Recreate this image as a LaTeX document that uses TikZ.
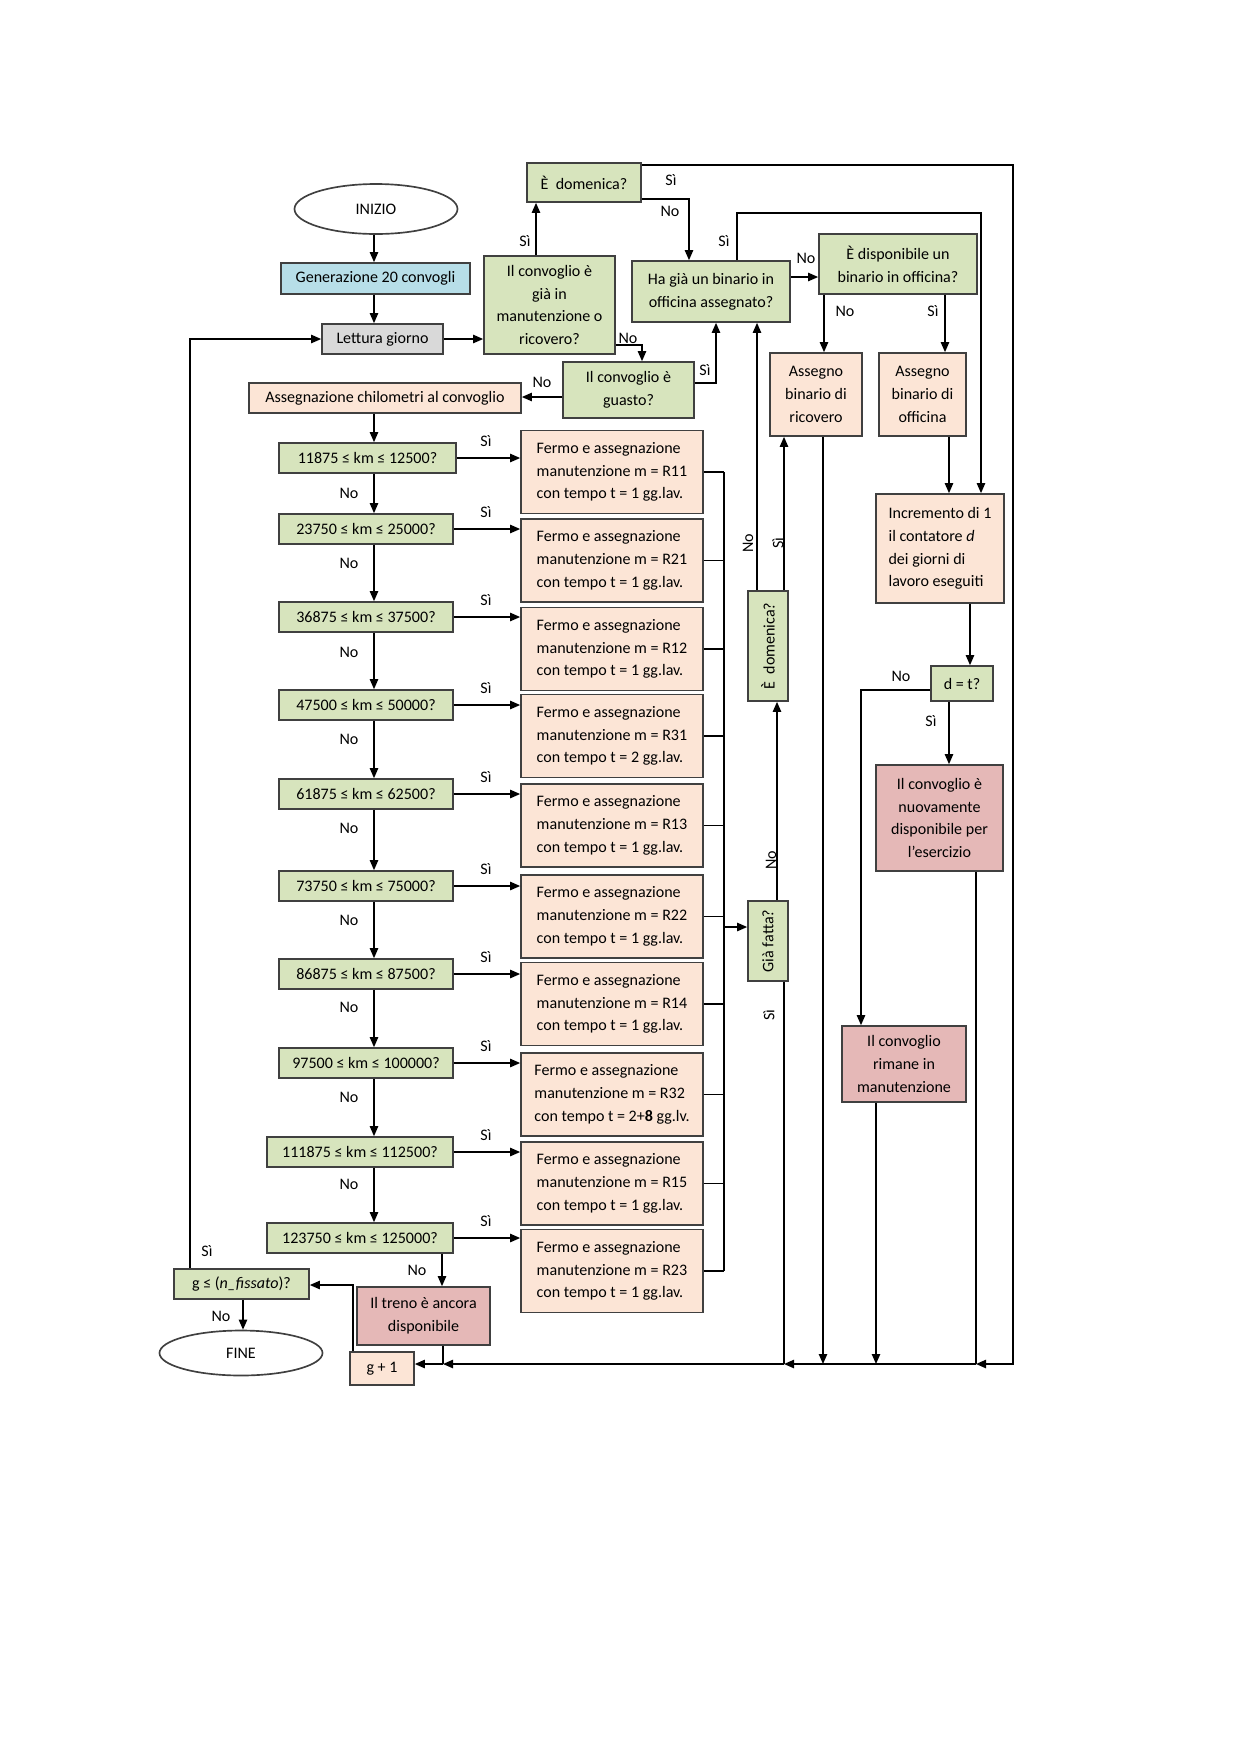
\documentclass[tikz,border=0pt]{standalone}
\usepackage{fontspec}
\setmainfont{Carlito}
\usepackage{graphicx}
\usepackage{xcolor}
\usepackage{tikz}
\usetikzlibrary{shapes,arrows,positioning,calc,arrows.meta}

\definecolor{verde}{RGB}{215,228,189}
\definecolor{pesca}{RGB}{252,229,214}
\definecolor{rosa}{RGB}{229,184,183}
\definecolor{azzurro}{RGB}{183,222,232}
\definecolor{grigio}{RGB}{217,217,217}
\definecolor{bordo}{RGB}{64,64,64}

\begin{document}
\begin{tikzpicture}[x=0.48pt, y=-0.48pt,
    wh/.style 2 args={minimum width=(#1)*0.48pt, minimum height=(#2)*0.48pt},
    box/.style={draw=bordo, line width=0.8pt, inner sep=0pt, align=center,
        font=\fontsize{7.7}{10.9}\selectfont},
    termine/.style={box, ellipse, fill=white},
    verdebox/.style={box, fill=verde},
    pescabox/.style={box, fill=pesca},
    rosabox/.style={box, fill=rosa},
    etich/.style={inner sep=0pt, font=\fontsize{7.7}{10.9}\selectfont},
    linea/.style={draw=black, line width=0.7pt},
    freccia/.style={linea, -{Triangle[length=4.8pt,width=4pt]}}]
    \useasboundingbox (0,0) rectangle (1240,1754);

    % blocchi in alto
    \node[termine, wh={163}{50}] (inizio) at (376,209) {INIZIO};
    \node[box, fill=azzurro, wh={189}{31}] (gen) at (375.5,278.5) {Generazione 20 convogli};
    \node[box, fill=grigio, wh={121}{30}] (lett) at (382.5,339) {Lettura giorno};
    \node[verdebox, wh={131}{98}] (giaman) at (549.5,305) {Il convoglio è\\già in\\manutenzione o\\ricovero?};
    \node[verdebox, wh={114}{39}] (dom1) at (584,182.5) {È\ \ domenica?};
    \node[verdebox, wh={131}{56}] (guasto) at (628.5,390) {Il convoglio è\\guasto?};
    \node[pescabox, wh={272}{30}] (asskm) at (385,398) {Assegnazione chilometri al convoglio};
    \node[verdebox, wh={158}{61}] (hagia) at (711,291.5) {Ha già un binario in\\officina assegnato?};
    \node[verdebox, wh={158}{60}] (disp) at (898,264) {È disponibile un\\binario in officina?};
    \node[pescabox, wh={92}{83}] (ricov) at (816,394.5) {Assegno\\binario di\\ricovero};
    \node[pescabox, wh={87}{83}] (offic) at (922.5,394.5) {Assegno\\binario di\\officina};
    \node[pescabox, wh={128}{109}, align=left] (incr) at (940,548.5) {Incremento di 1\\il contatore \textit{d}\\dei giorni di\\lavoro eseguiti};
    \node[verdebox, wh={62}{35}] (dt) at (962,683.5) {d = t?};
    \node[verdebox, wh={40}{110}] (dom2) at (768,646) {\rotatebox{90}{È\ \ domenica?}};
    \node[verdebox, wh={40}{80}] (giafatta) at (768,941) {\rotatebox{90}{Già fatta?}};
    \node[rosabox, wh={127}{106}] (nuov) at (939.5,818) {Il convoglio è\\nuovamente\\disponibile per\\l’esercizio};
    \node[rosabox, wh={124}{76}] (rimane) at (904,1064) {Il convoglio\\rimane in\\manutenzione};

    % blocchi in basso
    \node[rosabox, wh={133}{58}] (treno) at (423.5,1316) {Il treno è ancora\\disponibile};
    \node[pescabox, wh={64}{33}] (gpiu) at (382,1368.5) {g + 1};
    \node[verdebox, wh={135}{30}] (gcheck) at (241.5,1284) {g ≤ (\textit{n\_fissato})?};
    \node[termine, wh={163}{45}] (fine) at (241,1353) {FINE};

    % punti sulla linea di ritorno
    \coordinate (jDx) at (1013,1364);
    \coordinate (jNuov) at (976,1364);
    \coordinate (jRim) at (876,1364);
    \coordinate (jRic) at (823,1364);
    \coordinate (jGia) at (784,1364);
    \coordinate (jTreno) at (443,1364);

    % controlli sui chilometri
    \foreach \n/\xl/\xr/\yk/\yf/\kmlo/\kmhi/\rcod/\ggl in {
        1/279/456/458/472/11875/12500/R11/{1 gg.lav.},
        2/279/453/529/560.5/23750/25000/R21/{1 gg.lav.},
        3/279/453/617/649/36875/37500/R12/{1 gg.lav.},
        4/279/453/705/736/47500/50000/R31/{2 gg.lav.},
        5/279/453/794/825.5/61875/62500/R13/{1 gg.lav.},
        6/279/453/886/916.5/73750/75000/R22/{1 gg.lav.},
        7/279/453/974/1004/86875/87500/R14/{1 gg.lav.},
        8/279/453/1063/1094.5/97500/100000/R32/{2+\textbf{8} gg.lv.},
        9/267/453/1152/1183.5/111875/112500/R15/{1 gg.lav.},
        10/267/453/1238/1271/123750/125000/R23/{1 gg.lav.}}
    {
        \node[verdebox, wh={\xr-\xl}{30}] (km\n) at ({(\xl+\xr)/2},\yk) {\kmlo{} ≤ km ≤ \kmhi?};
        \node[pescabox, wh={182}{83}, align=left] (fermo\n) at (612,\yf) {Fermo e assegnazione\\manutenzione m = \rcod\\con tempo t = \ggl};
        \draw[freccia] (km\n.east) -- (km\n.east -| fermo\n.west);
        \node[etich] at (486,\yk-17) {Sì};
        \draw[linea] (fermo\n.east) -- (fermo\n.east -| 724,0);
    }
    \draw[freccia] (asskm.south -| 374,0) -- (km1.north -| 374,0);
    \foreach \a/\b/\yl in {1/2/493, 2/3/563, 3/4/652, 4/5/739, 5/6/828, 6/7/920, 7/8/1007, 8/9/1097, 9/10/1184}
    {
        \draw[freccia] (km\a.south -| 374,0) -- (km\b.north -| 374,0);
        \node[etich] at (349,\yl) {No};
    }
    \draw[linea] (fermo1.east -| 724,0) -- (fermo10.east -| 724,0);
    \draw[freccia] (724,927) -- (giafatta.west |- 0,927);

    % collegamenti
    \draw[freccia] (inizio.south -| 374,0) -- (gen.north -| 374,0);
    \draw[freccia] (gen.south -| 374,0) -- (lett.north -| 374,0);
    \draw[freccia] (lett.east) -- (giaman.west |- lett.east);
    \draw[freccia] (giaman.north -| 536,0) -- (dom1.south -| 536,0);
    \draw[freccia] (giaman.east |- 0,345) -- (642,345) -- (guasto.north -| 642,0);
    \draw[freccia] (dom1.east |- 0,165) -- (1013,165) -- (jDx) -- (jNuov);
    \draw[freccia] (dom1.east |- 0,199) -- (689,199) -- (hagia.north -| 689,0);
    \draw[freccia] (guasto.east |- 0,383) -- (716,383) -- (hagia.south -| 716,0);
    \draw[freccia] (guasto.west |- 0,397) -- (asskm.east |- 0,397);
    \draw[freccia] (hagia.east |- 0,277) -- (disp.west |- 0,277);
    \draw[freccia] (hagia.north -| 737,0) -- (737,213) -- (981,213) -- (incr.north -| 981,0);
    \draw[freccia] (disp.south -| 824,0) -- (ricov.north -| 824,0);
    \draw[freccia] (disp.south -| 945,0) -- (offic.north -| 945,0);
    \draw[freccia] (offic.south -| 949,0) -- (incr.north -| 949,0);
    \draw[freccia] (incr.south -| 970,0) -- (dt.north -| 970,0);
    \draw[freccia] (dt.west |- 0,690) -- (861,690) -- (rimane.north -| 861,0);
    \draw[freccia] (dt.south -| 949,0) -- (nuov.north -| 949,0);
    \draw[freccia] (dom2.north -| 757,0) -- (hagia.south -| 757,0);
    \draw[freccia] (dom2.north -| 784,0) -- (ricov.south -| 784,0);
    \draw[freccia] (giafatta.north -| 777,0) -- (dom2.south -| 777,0);

    % ritorno al giorno successivo
    \draw[linea] (nuov.south -| jNuov) -- (jNuov);
    \draw[freccia] (jNuov) -- (jGia);
    \draw[freccia] (ricov.south -| jRic) -- (jRic);
    \draw[freccia] (rimane.south -| jRim) -- (jRim);
    \draw[linea] (giafatta.south -| jGia) -- (jGia);
    \draw[freccia] (jGia) -- (jTreno);
    \draw[freccia] (km10.south -| 442,0) -- (treno.north -| 442,0);
    \draw[linea] (treno.south -| jTreno) -- (jTreno);
    \draw[freccia] (jTreno) -- (gpiu.east |- jTreno);
    \draw[freccia] (gpiu.north -| 353,0) -- (353,1285) -- (gcheck.east |- 0,1285);
    \draw[freccia] (gcheck.south -| 243,0) -- (fine.north -| 243,0);
    \draw[freccia] (gcheck.north -| 190,0) -- (190,339) -- (lett.west);

    % etichette
    \node[etich] at (525,241) {Sì};
    \node[etich] at (628,338) {No};
    \node[etich] at (671,180) {Sì};
    \node[etich] at (670,211) {No};
    \node[etich] at (705,370) {Sì};
    \node[etich] at (542,382) {No};
    \node[etich] at (724,241) {Sì};
    \node[etich] at (806,258) {No};
    \node[etich] at (845,311) {No};
    \node[etich] at (933,311) {Sì};
    \node[etich, rotate=90] at (748,543) {No};
    \node[etich, rotate=90] at (778,543) {Sì};
    \node[etich, rotate=90] at (771,860) {No};
    \node[etich, rotate=90] at (769,1015) {Sì};
    \node[etich] at (901,676) {No};
    \node[etich] at (931,721) {Sì};
    \node[etich] at (417,1270) {No};
    \node[etich] at (207,1251) {Sì};
    \node[etich] at (221,1316) {No};
\end{tikzpicture}
\end{document}
